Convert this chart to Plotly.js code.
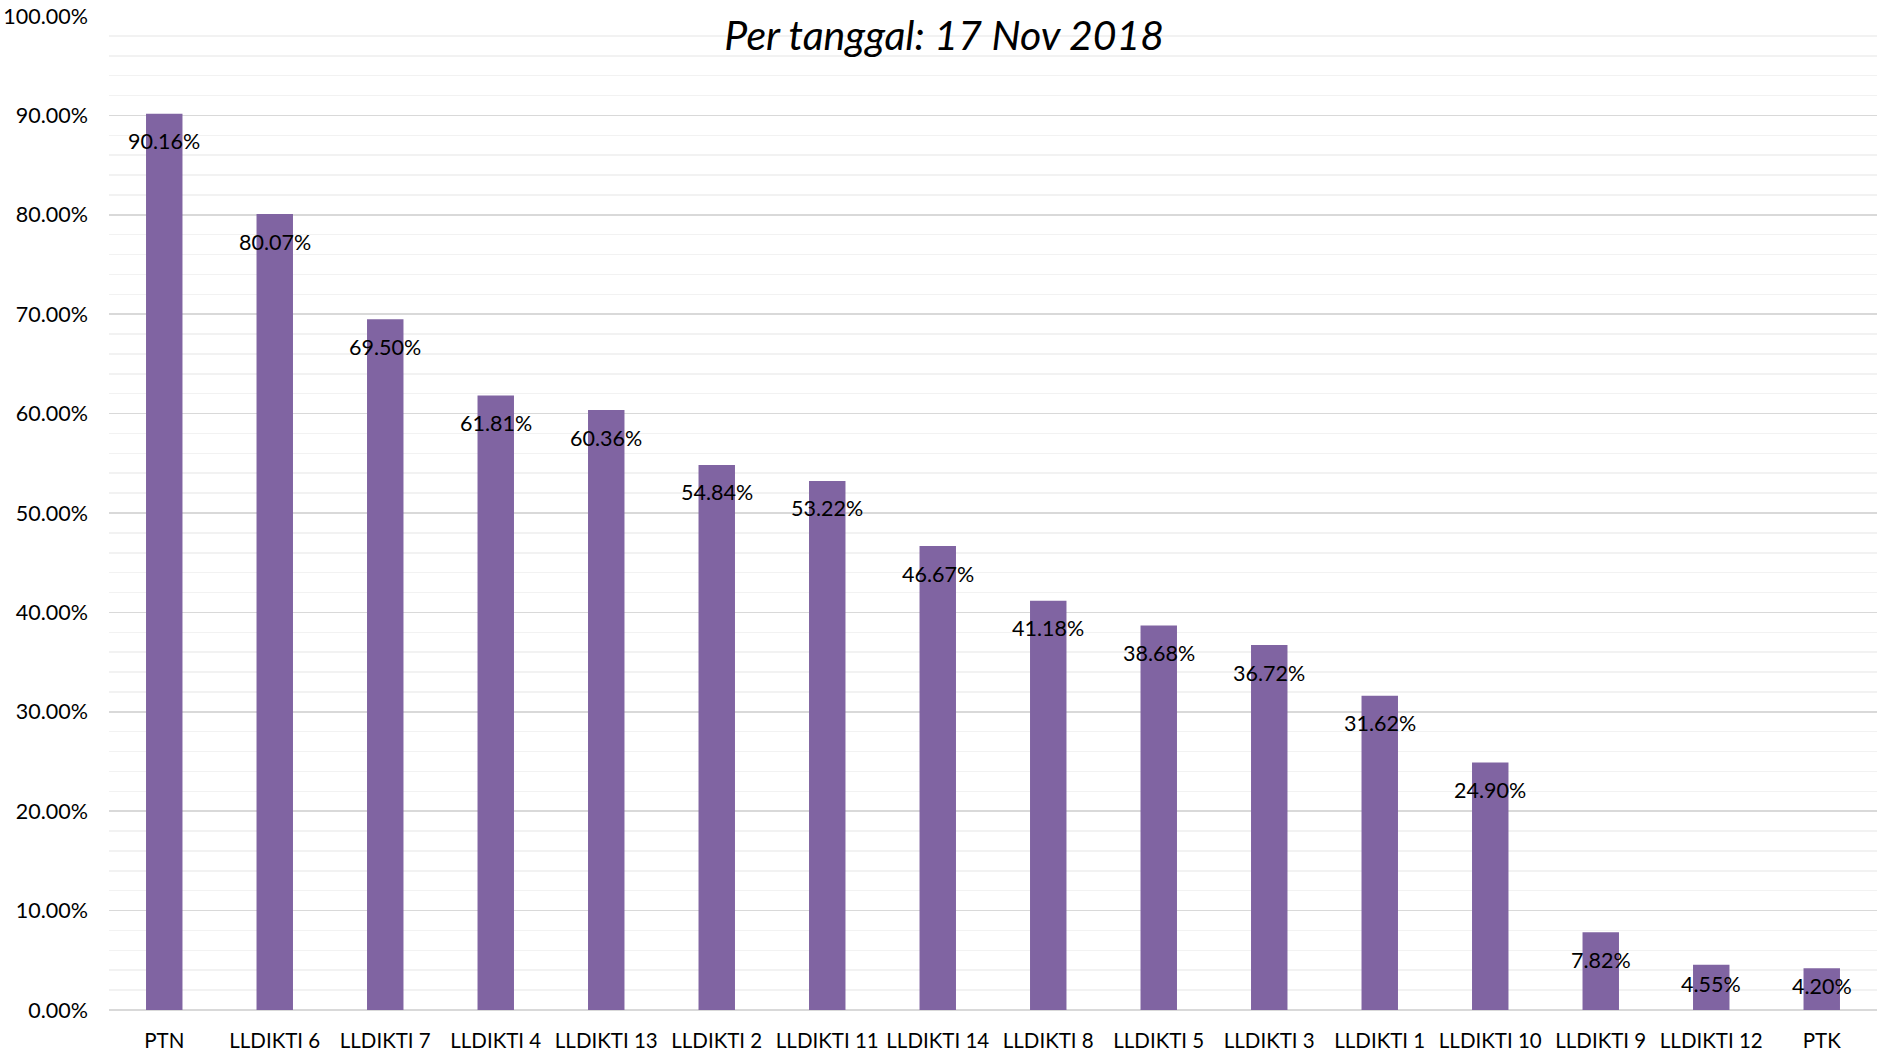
<!DOCTYPE html>
<html>
<head>
<meta charset="utf-8">
<script src="https://cdn.plot.ly/plotly-3.0.1.min.js"></script>
<style>html,body{margin:0;padding:0;background:#fff;}#chart{width:1881px;height:1057px;}</style>
</head>
<body>
<div id="chart"></div>
<script>
const categories = ["PTN","LLDIKTI 6","LLDIKTI 7","LLDIKTI 4","LLDIKTI 13","LLDIKTI 2","LLDIKTI 11","LLDIKTI 14","LLDIKTI 8","LLDIKTI 5","LLDIKTI 3","LLDIKTI 1","LLDIKTI 10","LLDIKTI 9","LLDIKTI 12","PTK"];
const values = [90.16,80.07,69.50,61.81,60.36,54.84,53.22,46.67,41.18,38.68,36.72,31.62,24.90,7.82,4.55,4.20];
const titleText = "Per tanggal: 17 Nov 2018";

const FONT = "Lato, 'Open Sans', sans-serif";
const margin = {l:109, r:4, t:16, b:47};
const plotH = 1057 - margin.t - margin.b;
const yMax = 100;

const annotations = categories.map((c, i) => {
  const hpx = values[i] / yMax * plotH;
  return {
    x: c, y: values[i], xref: 'x', yref: 'y',
    text: values[i].toFixed(2) + '%',
    showarrow: false, yanchor: 'middle', xanchor: 'center',
    yshift: -Math.min(27.5, hpx / 2 - 3),
    font: {family: FONT, size: 21.5, color: '#000'}
  };
});

const trace = {
  type: 'bar', x: categories, y: values,
  marker: {color: '#8064A2'},
  hoverinfo: 'x+y'
};

const layout = {
  width: 1881, height: 1057,
  margin: margin,
  paper_bgcolor: '#fff', plot_bgcolor: '#fff',
  bargap: 0.67,
  showlegend: false,
  title: {
    text: titleText, xref: 'container', x: 0.502, xanchor: 'center',
    yref: 'container', y: 1 - 36/1057, yanchor: 'middle',
    font: {family: FONT, size: 41, color: '#000', style: 'italic'}
  },
  xaxis: {
    type: 'category', showgrid: false, showline: false, zeroline: false,
    ticks: '', tickfont: {family: FONT, size: 20.5, color: '#000'},
    ticklabelstandoff: 16
  },
  yaxis: {
    range: [0, yMax], dtick: 10, tick0: 0,
    tickformat: '.2f', ticksuffix: '%',
    showgrid: true, gridcolor: '#D9D9D9', gridwidth: 1.5,
    zeroline: true, zerolinecolor: '#D9D9D9', zerolinewidth: 1.5,
    showline: false, ticks: '',
    minor: {dtick: 2, showgrid: true, gridcolor: '#F2F2F2', gridwidth: 1.5},
    tickfont: {family: FONT, size: 21.5, color: '#000'},
    ticklabelstandoff: 20
  },
  annotations: annotations
};

Plotly.newPlot('chart', [trace], layout, {displayModeBar: false, staticPlot: true});
</script>
</body>
</html>
